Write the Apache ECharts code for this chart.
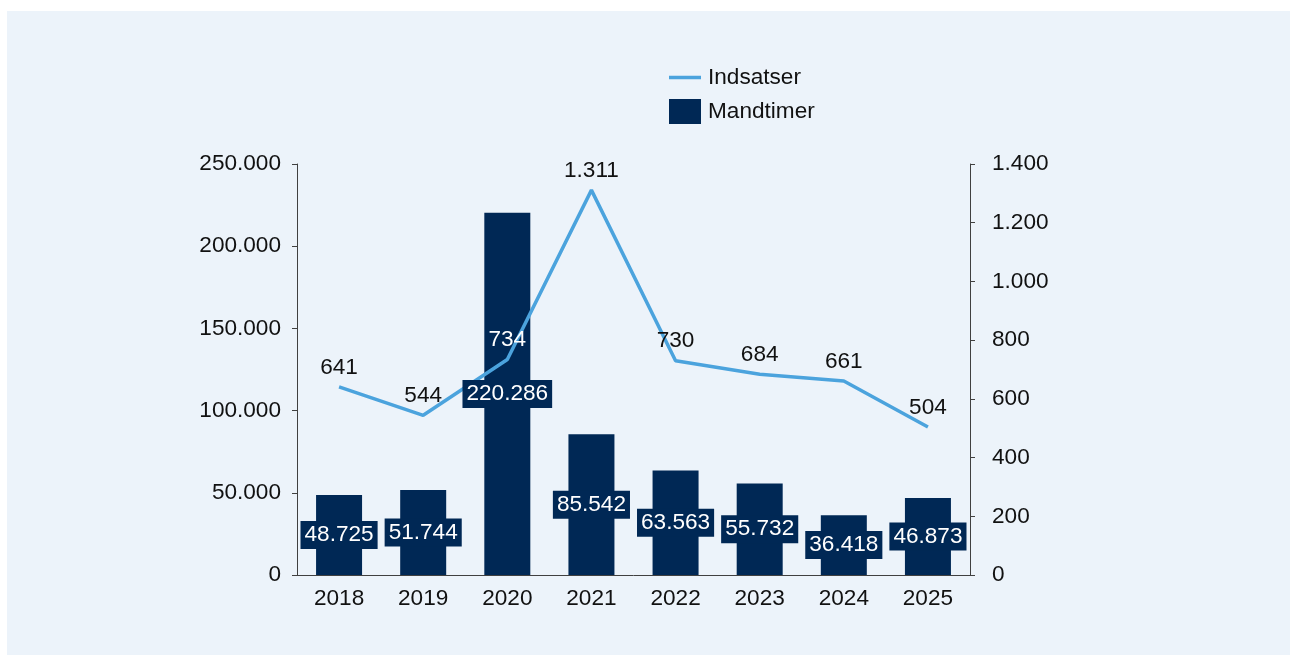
<!DOCTYPE html>
<html>
<head>
<meta charset="utf-8">
<script src="https://cdn.jsdelivr.net/npm/echarts@6/dist/echarts.min.js"></script>
<style>
  html, body { margin: 0; padding: 0; background: #ffffff; }
  #panel { position: absolute; left: 7px; top: 11px; width: 1283px; height: 644px; background: #ECF3FA; }
  #chart { position: absolute; left: 0; top: 0; width: 1291px; height: 656px; }
</style>
</head>
<body>
<div id="panel"></div>
<div id="chart"></div>
<script>
const years = ['2018', '2019', '2020', '2021', '2022', '2023', '2024', '2025'];
const mandtimer = [48725, 51744, 220286, 85542, 63563, 55732, 36418, 46873];
const indsatser = [641, 544, 734, 1311, 730, 684, 661, 504];
const leftTicks = { min: 0, max: 250000, interval: 50000 };
const rightTicks = { min: 0, max: 1400, interval: 200 };

const fmt = v => String(v).replace(/\B(?=(\d{3})+(?!\d))/g, '.');
const FONT = 'Liberation Sans, Arial, sans-serif';
const FS = 22.6;
const NAVY = '#002855';
const BLUE = '#4BA3DD';
const AXIS = '#404040';
const TXT = '#111111';

const chart = echarts.init(document.getElementById('chart'), null, { renderer: 'canvas' });

const lineData = indsatser.map((v, i) => (i === 2 ? { value: v, label: { color: '#ffffff' } } : v));

chart.setOption({
  backgroundColor: 'transparent',
  animation: false,
  textStyle: { fontFamily: FONT },
  legend: {
    orient: 'vertical',
    left: 664,
    top: 61,
    itemWidth: 32,
    itemHeight: 25,
    itemGap: 10,
    textStyle: { fontSize: FS, color: TXT, fontFamily: FONT, padding: [0, 0, 0, 2] },
    data: [
      { name: 'Indsatser', icon: 'path://M0,0 L32,0 L32,3.5 L0,3.5 Z', itemStyle: { color: BLUE } },
      { name: 'Mandtimer', icon: 'rect', itemStyle: { color: NAVY } }
    ]
  },
  grid: { left: 297, right: 321, top: 164, bottom: 81, containLabel: false },
  xAxis: {
    type: 'category',
    data: years,
    axisLine: { lineStyle: { color: AXIS, width: 1 } },
    axisTick: { show: false },
    axisLabel: { fontSize: FS, color: TXT, margin: 12, fontFamily: FONT }
  },
  yAxis: [
    {
      type: 'value',
      min: leftTicks.min, max: leftTicks.max, interval: leftTicks.interval,
      axisLine: { show: true, lineStyle: { color: AXIS, width: 1 } },
      axisTick: { show: true, length: 5, lineStyle: { color: AXIS } },
      splitLine: { show: false },
      axisLabel: { fontSize: FS, color: TXT, margin: 16, formatter: fmt, fontFamily: FONT }
    },
    {
      type: 'value',
      position: 'right',
      min: rightTicks.min, max: rightTicks.max, interval: rightTicks.interval,
      axisLine: { show: true, lineStyle: { color: AXIS, width: 1 } },
      axisTick: { show: true, length: 5, lineStyle: { color: AXIS } },
      splitLine: { show: false },
      axisLabel: { fontSize: FS, color: TXT, margin: 22, formatter: fmt, fontFamily: FONT }
    }
  ],
  series: [
    {
      name: 'Mandtimer',
      type: 'bar',
      yAxisIndex: 0,
      data: mandtimer,
      barWidth: 46,
      itemStyle: { color: NAVY },
      z: 2
    },
    {
      name: 'Indsatser',
      type: 'line',
      yAxisIndex: 1,
      data: lineData,
      symbol: 'circle',
      symbolSize: 0,
      lineStyle: { color: BLUE, width: 3.5 },
      itemStyle: { color: BLUE },
      label: {
        show: true,
        position: 'top',
        distance: 8,
        fontSize: FS,
        color: TXT,
        fontFamily: FONT,
        formatter: p => fmt(p.value)
      },
      z: 3
    },
    {
      name: 'MandtimerLabels',
      type: 'bar',
      yAxisIndex: 0,
      data: mandtimer,
      barWidth: 46,
      barGap: '-100%',
      itemStyle: { color: 'rgba(0,0,0,0)' },
      label: {
        show: true,
        position: 'inside',
        fontSize: FS,
        color: '#ffffff',
        fontFamily: FONT,
        backgroundColor: NAVY,
        padding: [3, 4, 2, 4],
        formatter: p => fmt(p.value)
      },
      z: 5
    }
  ]
});
</script>
</body>
</html>
